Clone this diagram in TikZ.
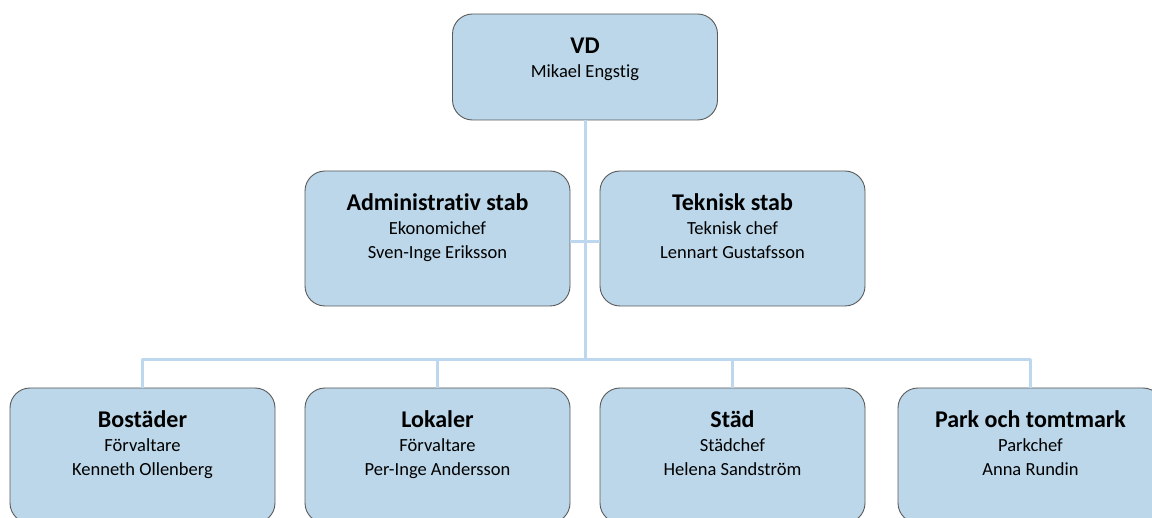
\documentclass[tikz,border=0pt]{standalone}
\usepackage{fontspec}
\setmainfont[Ligatures=NoCommon]{Carlito}
\definecolor{boxfill}{RGB}{187,215,233}
\definecolor{boxline}{RGB}{90,90,90}
\definecolor{linkline}{RGB}{189,215,238}
\tikzset{
	orgbox/.style={draw=boxline, fill=boxfill, line width=0.9pt, rounded corners=20pt,
		minimum width=265pt, minimum height=135pt, inner sep=0pt},
	unittext/.style={align=center, anchor=north, inner sep=0pt,
		font=\fontsize{18.5}{24}\selectfont},
	link/.style={draw=linkline, line width=3pt}
}
\newcommand{\unitname}[1]{{\fontsize{24}{26}\selectfont\bfseries\rule{0pt}{18pt}#1}}
\begin{document}
\begin{tikzpicture}[x=1pt, y=-1pt, line join=round]
	\path[use as bounding box, clip] (0,0) rectangle (1152,518);
	\fill[white] (0,0) rectangle (1152,518);
	
	% boxes
	\node[orgbox, minimum height=106pt] (vd) at (585,67) {};
	\node[orgbox] (admin) at (437.5,238.5) {};
	\node[orgbox] (teknisk) at (732.5,238.5) {};
	\node[orgbox] (bostader) at (142.5,455.5) {};
	\node[orgbox] (lokaler) at (437.5,455.5) {};
	\node[orgbox] (stad) at (732.5,455.5) {};
	\node[orgbox] (park) at (1030.5,455.5) {};
	
	% connectors
	\coordinate (bus) at (584,360);
	\path[link] (vd.south) -- (vd.south |- bus);
	\path[link] (admin.east |- 0,242) -- (teknisk.west |- 0,242);
	\path[link] (bostader.north) -- (bostader.north |- bus) -- (park.north |- bus) -- (park.north);
	\path[link] (lokaler.north) -- (lokaler.north |- bus);
	\path[link] (stad.north) -- (stad.north |- bus);
	
	% texts
	\node[unittext] (vdtext) at ([yshift=-22pt]vd.north) {\unitname{VD}\\Mikael Engstig};
	\node[unittext] (admintext) at ([yshift=-22pt]admin.north) {\unitname{Administrativ stab}\\Ekonomichef\\Sven-Inge Eriksson};
	\node[unittext] (teknisktext) at ([yshift=-22pt]teknisk.north) {\unitname{Teknisk stab}\\Teknisk chef\\Lennart Gustafsson};
	\node[unittext] (bostadertext) at ([yshift=-22pt]bostader.north) {\unitname{Bostäder}\\Förvaltare\\Kenneth Ollenberg};
	\node[unittext] (lokalertext) at ([yshift=-22pt]lokaler.north) {\unitname{Lokaler}\\Förvaltare\\Per-Inge Andersson};
	\node[unittext] (stadtext) at ([yshift=-22pt]stad.north) {\unitname{Städ}\\Städchef\\Helena Sandström};
	\node[unittext] (parktext) at ([yshift=-22pt]park.north) {\unitname{Park och tomtmark}\\Parkchef\\Anna Rundin};
\end{tikzpicture}
\end{document}
